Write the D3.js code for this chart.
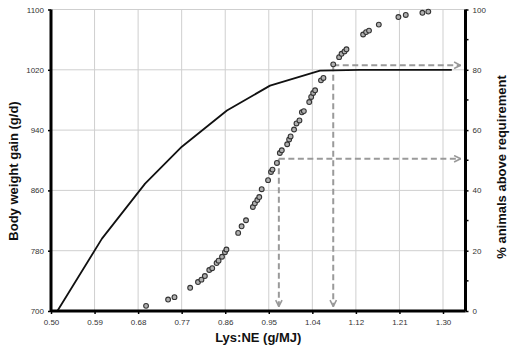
<!DOCTYPE html>
<html>
<head>
<meta charset="utf-8">
<script src="https://cdn.jsdelivr.net/npm/d3@7"></script>
<style>
  html, body { margin: 0; padding: 0; background: #fff; }
  svg { display: block; font-family: "Liberation Sans", Arial, sans-serif; }
</style>
</head>
<body>
<svg id="chart" width="520" height="350"></svg>
<script>
// Response curve: body weight gain (g/d) against dietary Lys:NE (g/MJ)
const curveLys  = [0.513, 0.604, 0.692, 0.767, 0.859, 0.947, 1.049, 1.131, 1.318];
const curveGain = [700, 796, 869, 918, 966, 999, 1019, 1020, 1020];

// Individual requirements, as cumulative % of animals covered
const reqLys = [0.694, 0.739, 0.752, 0.784, 0.800, 0.807, 0.814, 0.823, 0.829, 0.838,
                0.842, 0.849, 0.855, 0.858, 0.882, 0.889, 0.898, 0.912, 0.916, 0.921,
                0.925, 0.930, 0.943, 0.949, 0.952, 0.961, 0.967, 0.971, 0.982, 0.986,
                0.989, 0.996, 1.001, 1.007, 1.012, 1.016, 1.027, 1.031, 1.035, 1.039,
                1.051, 1.056, 1.076, 1.088, 1.093, 1.099, 1.103, 1.137, 1.143, 1.149,
                1.169, 1.209, 1.224, 1.258, 1.270];
const reqPct = [1.7, 3.8, 4.6, 7.7, 9.6, 10.4, 11.6, 13.6, 14.2, 15.9,
                16.7, 18.0, 19.5, 20.4, 25.9, 28.1, 30.1, 34.5, 35.7, 36.8,
                37.8, 40.4, 43.4, 46.1, 46.9, 49.1, 52.4, 53.3, 55.3, 56.9,
                57.9, 60.2, 62.2, 63.2, 65.9, 66.3, 69.3, 71.0, 72.3, 73.2,
                76.5, 77.3, 81.8, 84.2, 85.3, 86.1, 86.8, 91.7, 92.5, 93.0,
                95.0, 97.5, 98.2, 98.9, 99.3];

// Reference levels marked with dashed guides
const guideLys = [0.965, 1.076];
const guidePct = [50.5, 81.5];

// Axis ticks
const xTickLabels = ["0.50", "0.59", "0.68", "0.77", "0.86", "0.95", "1.04", "1.12", "1.21", "1.30"];
const yLeftTicks  = [700, 780, 860, 940, 1020, 1100];
const yRightTicks = [0, 20, 40, 60, 80, 100];
const yRightMinor = [10, 30, 50, 70, 90];

const xStep = 0.8 / 9;
const xTickValues = xTickLabels.map((_, i) => 0.5 + i * xStep);

const svg = d3.select("#chart");
const L = 51, R = 465.5, T = 9.5, B = 311;

const x = d3.scaleLinear().domain([0.5, 0.5 + 9 * xStep]).range([L, 443]);
const xMax = x.invert(R);
const yL = d3.scaleLinear().domain([700, 1100]).range([B, T]);
const yR = d3.scaleLinear().domain([0, 100]).range([B, T]);

// Grid
const grid = svg.append("g").attr("stroke", "#cfcfcf").attr("stroke-width", 1);
grid.selectAll(".gy").data(yLeftTicks).join("line")
  .attr("x1", L).attr("x2", R).attr("y1", d => yL(d)).attr("y2", d => yL(d));
grid.selectAll(".gx").data(xTickValues.slice(1)).join("line")
  .attr("x1", d => x(d)).attr("x2", d => x(d)).attr("y1", T).attr("y2", B);

// Arrow marker for the dashed guides
svg.append("defs").append("marker")
  .attr("id", "arrow").attr("viewBox", "0 0 10 10")
  .attr("refX", 9).attr("refY", 5)
  .attr("markerWidth", 4).attr("markerHeight", 4)
  .attr("orient", "auto")
  .append("path").attr("d", "M1,1 L9,5 L1,9")
  .attr("fill", "none").attr("stroke", "#999").attr("stroke-width", 2);

const guides = svg.append("g")
  .attr("stroke", "#9a9a9a").attr("stroke-width", 2)
  .attr("stroke-dasharray", "6,3.5").attr("fill", "none");
guideLys.forEach((gx, i) => {
  guides.append("line")
    .attr("x1", x(gx)).attr("x2", x(gx))
    .attr("y1", yR(guidePct[i])).attr("y2", yR(1.5))
    .attr("marker-end", "url(#arrow)");
  guides.append("line")
    .attr("x1", x(gx)).attr("x2", x(xMax) - 5)
    .attr("y1", yR(guidePct[i])).attr("y2", yR(guidePct[i]))
    .attr("marker-end", "url(#arrow)");
});

// Response curve
svg.append("path")
  .datum(curveLys.map((v, i) => [v, curveGain[i]]))
  .attr("fill", "none").attr("stroke", "#111").attr("stroke-width", 1.8)
  .attr("stroke-linejoin", "round")
  .attr("d", d3.line().x(d => x(d[0])).y(d => yL(d[1])));

// Requirement points
svg.append("g").selectAll("circle")
  .data(reqLys.map((v, i) => [v, reqPct[i]]))
  .join("circle")
  .attr("cx", d => x(d[0])).attr("cy", d => yR(d[1])).attr("r", 2.4)
  .attr("fill", "#b0b0b0").attr("stroke", "#333").attr("stroke-width", 1.1);

// Axes
const tickFont = g => g.selectAll("text")
  .attr("font-size", 8).attr("fill", "#333")
  .attr("font-family", "'Liberation Sans', Arial, sans-serif");

const xAxis = svg.append("g").attr("transform", `translate(0,${B})`)
  .call(d3.axisBottom(x).tickValues(xTickValues)
    .tickFormat((d, i) => xTickLabels[i]).tickSize(3).tickPadding(5.5));
xAxis.select(".domain").attr("d", `M${L},0H${R}`).attr("stroke", "#000").attr("stroke-width", 3);
xAxis.selectAll(".tick line").attr("stroke", "#000").attr("stroke-width", 1.5);
xAxis.call(tickFont);

const yAxisL = svg.append("g").attr("transform", `translate(${L},0)`)
  .call(d3.axisLeft(yL).tickValues(yLeftTicks).tickFormat(d3.format("d")).tickSize(3).tickPadding(4));
yAxisL.select(".domain").attr("d", `M0,${T}V${B}`).attr("stroke", "#000").attr("stroke-width", 3);
yAxisL.selectAll(".tick line").attr("stroke", "#000").attr("stroke-width", 1.5);
yAxisL.call(tickFont);

const yAxisR = svg.append("g").attr("transform", `translate(${R},0)`)
  .call(d3.axisRight(yR).tickValues(yRightTicks).tickFormat(d3.format("d")).tickSize(3).tickPadding(4));
yAxisR.select(".domain").attr("d", `M0,${T}V${B}`).attr("stroke", "#000").attr("stroke-width", 3);
yAxisR.selectAll(".tick line").attr("stroke", "#000").attr("stroke-width", 1.5);
yAxisR.call(tickFont);
yAxisR.append("g").selectAll("line").data(yRightMinor).join("line")
  .attr("x1", 0).attr("x2", 3).attr("y1", d => yR(d)).attr("y2", d => yR(d))
  .attr("stroke", "#000").attr("stroke-width", 1.5);

// Axis titles
const titleStyle = t => t.attr("text-anchor", "middle").attr("font-size", 13)
  .attr("font-weight", "bold").attr("fill", "#111");
svg.append("text")
  .attr("x", (L + R) / 2).attr("y", 342)
  .call(titleStyle)
  .text("Lys:NE (g/MJ)");
svg.append("text")
  .attr("transform", "translate(18,171) rotate(-90)")
  .call(titleStyle)
  .text("Body weight gain (g/d)");
svg.append("text")
  .attr("transform", "translate(506,167) rotate(-90)")
  .call(titleStyle)
  .text("% animals above requirement");
</script>
</body>
</html>
